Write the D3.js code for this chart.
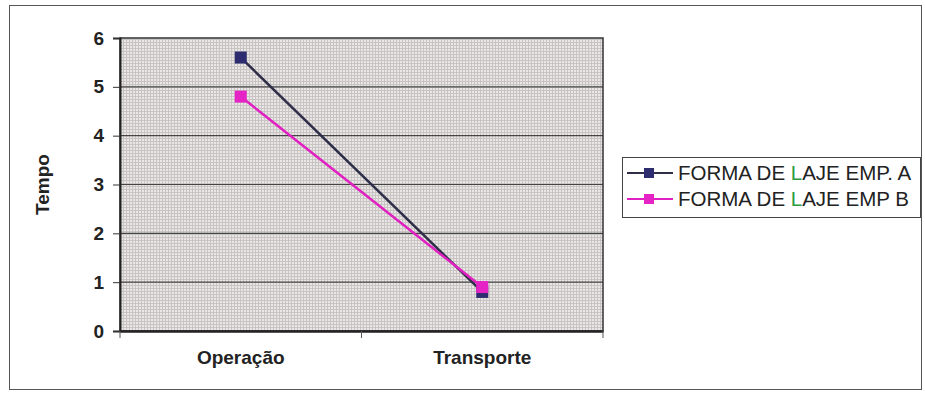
<!DOCTYPE html>
<html>
<head>
<meta charset="utf-8">
<script src="https://cdn.jsdelivr.net/npm/d3@7"></script>
<style>
  body { margin: 0; background: #fff; }
  svg { display: block; font-family: "Liberation Sans", Arial, sans-serif; }
</style>
</head>
<body>
<div id="chart"></div>
<script>
(function () {
  "use strict";

  // ── Dados ──────────────────────────────────────────────
  const categories = ["Operação", "Transporte"];
  const serieA = [5.6, 0.8];
  const serieB = [4.8, 0.9];
  const seriesNames = ["FORMA DE LAJE EMP. A", "FORMA DE LAJE EMP B"];
  const yTicks = [0, 1, 2, 3, 4, 5, 6];

  // ── Configuração ───────────────────────────────────────
  const width = 925;
  const height = 396;
  const plot = { left: 120, right: 603, top: 38, bottom: 331 };
  const FONT = '"Liberation Sans", Arial, sans-serif';
  const colors = [
    { line: "#2e2e48", marker: "#2c2c6e" },
    { line: "#e020c0", marker: "#e624c6" }
  ];

  const svg = d3.select("#chart").append("svg").attr("width", width).attr("height", height);

  // Padrão pontilhado do fundo
  const defs = svg.append("defs");
  const pat = defs.append("pattern").attr("id", "dots").attr("width", 3).attr("height", 3).attr("patternUnits", "userSpaceOnUse");
  pat.append("rect").attr("width", 3).attr("height", 3).attr("fill", "#eae6e6");
  pat.append("rect").attr("width", 3).attr("height", 1).attr("fill", "#c8c4c4");
  pat.append("rect").attr("width", 1).attr("height", 3).attr("fill", "#c8c4c4");

  // Moldura externa
  svg.append("rect").attr("x", 9.5).attr("y", 5.5).attr("width", 912).attr("height", 384)
    .attr("fill", "none").attr("stroke", "#555").attr("stroke-width", 1);

  // Escalas
  const x = d3.scaleBand().domain(categories).range([plot.left, plot.right]);
  const y = d3.scaleLinear().domain([0, 6]).range([plot.bottom, plot.top]);

  // Área de plotagem
  svg.append("rect").attr("x", plot.left).attr("y", plot.top)
    .attr("width", plot.right - plot.left).attr("height", plot.bottom - plot.top)
    .attr("fill", "url(#dots)");

  // Linhas de grade
  svg.append("g").selectAll("line").data(yTicks.filter((d) => d > 0 && d < 6)).join("line")
    .attr("x1", plot.left).attr("x2", plot.right)
    .attr("y1", (d) => y(d)).attr("y2", (d) => y(d))
    .attr("stroke", "#444").attr("stroke-width", 1.2);

  // Borda da área
  svg.append("rect").attr("x", plot.left).attr("y", plot.top)
    .attr("width", plot.right - plot.left).attr("height", plot.bottom - plot.top)
    .attr("fill", "none").attr("stroke", "#333").attr("stroke-width", 1.5);

  // Eixo Y
  const yAxis = d3.axisLeft(y).tickValues(yTicks).tickFormat(d3.format("d")).tickSize(7).tickPadding(9);
  const gY = svg.append("g").attr("transform", `translate(${plot.left},0)`).call(yAxis)
    .attr("font-family", FONT).attr("font-size", 19);
  gY.select(".domain").attr("stroke", "#222").attr("stroke-width", 2);
  gY.selectAll(".tick line").attr("stroke", "#333");
  gY.selectAll(".tick text").attr("font-weight", "bold").attr("fill", "#222");

  // Eixo X
  const xAxis = d3.axisBottom(x).tickSize(0).tickPadding(20);
  const gX = svg.append("g").attr("transform", `translate(0,${plot.bottom})`).call(xAxis)
    .attr("font-family", FONT).attr("font-size", 19);
  gX.select(".domain").attr("stroke", "#222").attr("stroke-width", 2.5);
  gX.selectAll(".tick text").attr("font-weight", "bold").attr("fill", "#222");

  // Marcas de divisão das categorias
  const xBounds = [plot.left, plot.left + x.bandwidth(), plot.right];
  svg.append("g").selectAll("line").data(xBounds).join("line")
    .attr("x1", (d) => d).attr("x2", (d) => d)
    .attr("y1", plot.bottom).attr("y2", plot.bottom + 7)
    .attr("stroke", "#555").attr("stroke-width", 1);

  // Título do eixo Y
  svg.append("text").attr("transform", `translate(49,${(plot.top + plot.bottom) / 2}) rotate(-90)`)
    .attr("text-anchor", "middle").attr("font-size", "19px").attr("font-weight", "bold").attr("fill", "#222")
    .text("Tempo");

  // Séries
  const seriesData = [serieA, serieB];
  const cx = (i) => x(categories[i]) + x.bandwidth() / 2;
  const line = d3.line().x((d, i) => cx(i)).y((d) => y(d));

  seriesData.forEach((vals, s) => {
    svg.append("path").attr("d", line(vals)).attr("fill", "none")
      .attr("stroke", colors[s].line).attr("stroke-width", 2.5);
  });
  seriesData.forEach((vals, s) => {
    svg.append("g").selectAll("rect").data(vals).join("rect")
      .attr("x", (d, i) => cx(i) - 6).attr("y", (d) => y(d) - 6)
      .attr("width", 12).attr("height", 12).attr("fill", colors[s].marker);
  });

  // Legenda
  const leg = svg.append("g").attr("transform", "translate(622,157)");
  leg.append("rect").attr("x", 0.5).attr("y", 0.5).attr("width", 298).attr("height", 60)
    .attr("fill", "#fff").attr("stroke", "#444").attr("stroke-width", 1);
  seriesNames.forEach((name, s) => {
    const ly = 16 + s * 26;
    leg.append("line").attr("x1", 5).attr("x2", 51).attr("y1", ly).attr("y2", ly)
      .attr("stroke", colors[s].line).attr("stroke-width", 2);
    leg.append("rect").attr("x", 22).attr("y", ly - 5).attr("width", 10).attr("height", 10)
      .attr("fill", colors[s].marker);
    const t = leg.append("text").attr("x", 56).attr("y", ly + 7)
      .attr("font-size", "20.5px").attr("fill", "#222");
    const idx = name.indexOf("LAJE");
    t.append("tspan").text(name.slice(0, idx));
    t.append("tspan").attr("fill", "#2a9a40").text("L");
    t.append("tspan").text(name.slice(idx + 1));
  });
})();
</script>
</body>
</html>
